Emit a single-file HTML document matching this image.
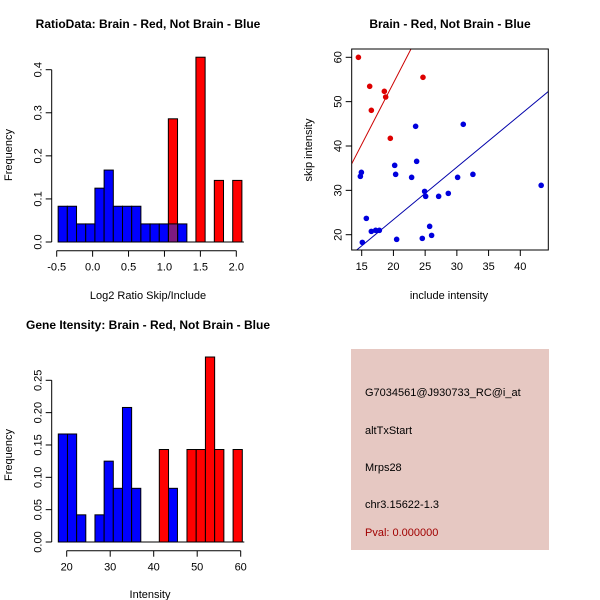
<!DOCTYPE html>
<html><head><meta charset="utf-8"><style>
body{margin:0;background:#fff}
svg{display:block;font-family:"Liberation Sans",Arial,sans-serif}
.t{font-size:11px}
.title{font-size:12px;font-weight:bold}
</style></head><body>
<svg id="s" width="600" height="600" viewBox="0 0 600 600">
<rect width="600" height="600" fill="#fff"/>
<text class="title" x="148" y="28" text-anchor="middle">RatioData: Brain - Red, Not Brain - Blue</text>
<text class="t" x="148" y="299" text-anchor="middle">Log2 Ratio Skip/Include</text>
<text class="t" transform="translate(12,155) rotate(-90)" text-anchor="middle">Frequency</text>
<text class="title" x="450" y="28" text-anchor="middle">Brain - Red, Not Brain - Blue</text>
<text class="t" x="449" y="299" text-anchor="middle">include intensity</text>
<text class="t" transform="translate(312,150) rotate(-90)" text-anchor="middle">skip intensity</text>
<text class="title" x="148" y="329" text-anchor="middle">Gene Itensity: Brain - Red, Not Brain - Blue</text>
<text class="t" x="150" y="598" text-anchor="middle">Intensity</text>
<text class="t" transform="translate(12,455) rotate(-90)" text-anchor="middle">Frequency</text>
<g>
<rect x="351" y="349" width="198" height="201" fill="#e6c8c2"/>
<text class="t" x="365" y="396">G7034561@J930733_RC@i_at</text>
<text class="t" x="365" y="434">altTxStart</text>
<text class="t" x="365" y="471">Mrps28</text>
<text class="t" x="365" y="508">chr3.15622-1.3</text>
<text class="t" x="365" y="536" fill="#a00000">Pval: 0.000000</text>
</g>
</svg>
<script>
// ---- data: ratio histogram
const ratioBlueStart=-0.48, ratioBlueWidth=0.128;
const ratioBlueFreq=[0.083,0.083,0.042,0.042,0.125,0.167,0.083,0.083,0.083,0.042,0.042,0.042,0.042,0.042];
const ratioRedStart=1.054, ratioRedWidth=0.128;
const ratioRedFreq=[0.286,0,0,0.429,0,0.143,0,0.143];
const ratioXTicks=[-0.5,0.0,0.5,1.0,1.5,2.0];
const ratioXTickLabels=["-0.5","0.0","0.5","1.0","1.5","2.0"];
const ratioYTicks=[0,0.1,0.2,0.3,0.4];
const ratioYTickLabels=["0.0","0.1","0.2","0.3","0.4"];
// ---- data: scatter
const redInclude=[14.48,16.26,16.52,18.57,18.78,19.51,24.66];
const redSkip=[60,53.46,48.05,52.33,51.05,41.73,55.49];
const blueInclude=[14.79,14.95,15.1,15.73,16.52,17.2,17.78,20.2,20.35,20.51,22.87,23.5,23.66,24.55,24.92,25.08,25.71,26.02,27.13,28.65,30.12,31.01,32.53,43.29];
const blueSkip=[33.16,34.06,18.27,23.68,20.75,20.98,20.98,35.64,33.61,18.95,32.93,44.44,36.54,19.17,29.77,28.65,21.88,19.85,28.65,29.32,32.93,44.89,33.61,31.13];
const redFit=[-1.2,2.77]; // intercept, slope
const blueFit=[-0.26,1.183];
const scatterXTicks=[15,20,25,30,35,40];
const scatterYTicks=[20,30,40,50,60];
// ---- data: intensity histogram
const intBlueStart=18.07, intBlueWidth=2.107;
const intBlueFreq=[0.167,0.167,0.042,0,0.042,0.125,0.083,0.208,0.083,0,0,0,0.083];
const intRedStart=41.29, intRedWidth=2.12;
const intRedFreq=[0.143,0,0,0.143,0.143,0.286,0.143,0,0.143];
const intXTicks=[20,30,40,50,60];
const intYTicks=[0,0.05,0.10,0.15,0.20,0.25];
const intYTickLabels=["0.00","0.05","0.10","0.15","0.20","0.25"];

const NS="http://www.w3.org/2000/svg";
const svg=document.getElementById('s');
function mk(tag,attrs,parent){const e=document.createElementNS(NS,tag);for(const k in attrs)e.setAttribute(k,attrs[k]);(parent||svg).appendChild(e);return e;}
function lin(d0,d1,r0,r1){return v=>r0+(v-d0)*(r1-r0)/(d1-d0);}

function hist(cfg){
  const g=mk('g',{});
  
  
  const x=cfg.x,y=cfg.y;
  const blue=[];
  cfg.bf.forEach((f,i)=>{
    const x0=cfg.bs+i*cfg.bw,x1=x0+cfg.bw;blue.push([x0,x1,f]);
    if(f<=0)return;
    const r=mk('rect',{x:x(x0),y:y(f),width:x(x1)-x(x0),height:y(0)-y(f),fill:'#0000ff',stroke:'#000','stroke-width':1},g);
    
    
  });
  cfg.rf.forEach((f,i)=>{
    const x0=cfg.rs+i*cfg.rw,x1=x0+cfg.rw;
    if(f<=0)return;
    const r=mk('rect',{x:x(x0),y:y(f),width:x(x1)-x(x0),height:y(0)-y(f),fill:'#ff0000',stroke:'#000','stroke-width':1},g);
    
    
    blue.forEach(b=>{
      const a=Math.max(b[0],x0),c=Math.min(b[1],x1);
      if(c-a>cfg.bw*0.5&&b[2]>0){
        const h=Math.min(b[2],f);
        const o=mk('rect',{x:x(a),y:y(h),width:x(c)-x(a),height:y(0)-y(h),fill:'#7f1a80',stroke:'#000','stroke-width':1},g);
        
        
      }
    });
  });
  // x axis
  const xa=mk('g',{});
  
  
  const xt=cfg.xt,ay=cfg.axisY;
  mk('line',{x1:x(xt[0]),x2:x(xt[xt.length-1]),y1:ay,y2:ay,stroke:'#000'},xa);
  xt.forEach((v,i)=>{mk('line',{x1:x(v),x2:x(v),y1:ay,y2:ay+6,stroke:'#000'},xa);
    const t=mk('text',{x:x(v),y:ay+20,'text-anchor':'middle',class:'t'},xa);t.textContent=cfg.xl[i];
    
    });
  const ya=mk('g',{});
  
  
  const yt=cfg.yt,ax=cfg.axisX;
  mk('line',{x1:ax,x2:ax,y1:y(yt[0]),y2:y(yt[yt.length-1]),stroke:'#000'},ya);
  yt.forEach((v,i)=>{mk('line',{x1:ax-6,x2:ax,y1:y(v),y2:y(v),stroke:'#000'},ya);
    const t=mk('text',{transform:`translate(${ax-10},${y(v)}) rotate(-90)`,'text-anchor':'middle',class:'t'},ya);t.textContent=cfg.yl[i];
    
    });
  // baseline
  mk('line',{x1:x(cfg.bs),x2:x(cfg.rs+cfg.rf.length*cfg.rw)+2,y1:y(0),y2:y(0),stroke:'#000'},g);
}
hist({name:'ratio-histogram',x:lin(-0.5,2.0,56.7,236.3),y:lin(0,0.4,242,69.7),
  bs:ratioBlueStart,bw:ratioBlueWidth,bf:ratioBlueFreq,rs:ratioRedStart,rw:ratioRedWidth,rf:ratioRedFreq,
  xt:ratioXTicks,xl:ratioXTickLabels,yt:ratioYTicks,yl:ratioYTickLabels,axisY:250.7,axisX:51.7});
hist({name:'intensity-histogram',x:lin(20,60,66.7,240.7),y:lin(0,0.25,542,380.3),
  bs:intBlueStart,bw:intBlueWidth,bf:intBlueFreq,rs:intRedStart,rw:intRedWidth,rf:intRedFreq,
  xt:intXTicks,xl:intXTicks.map(String),yt:intYTicks,yl:intYTickLabels,axisY:550.7,axisX:51.7});

// scatter
(function(){
  const x=lin(15,40,361.7,520.3),y=lin(20,60,234.7,57.3);
  const L=351.7,R=548.3,T=49,B=250;
  const g=mk('g',{});
  
  
  mk('clipPath',{id:'cp'},g);
  mk('rect',{x:L,y:T,width:R-L,height:B-T},g.querySelector('#cp'));
  const xmin=15+(L-361.7)/6.344,xmax=15+(R-361.7)/6.344;
  [[redFit,'#cc0000','red-fit-line'],[blueFit,'#0000aa','blue-fit-line']].forEach(([f,c,n])=>{
    const l=mk('line',{x1:x(xmin),y1:y(f[0]+f[1]*xmin),x2:x(xmax),y2:y(f[0]+f[1]*xmax),stroke:c,'stroke-width':1,'clip-path':'url(#cp)'},g);
    
    
  });
  blueInclude.forEach((v,i)=>{const c=mk('circle',{cx:x(v),cy:y(blueSkip[i]),r:2.8,fill:'#0000dd'},g);
    
    });
  redInclude.forEach((v,i)=>{const c=mk('circle',{cx:x(v),cy:y(redSkip[i]),r:2.8,fill:'#dd0000'},g);
    
    });
  const box=mk('rect',{x:L,y:T,width:R-L,height:B-T,fill:'none',stroke:'#000'},g);
  
  
  scatterXTicks.forEach(v=>{mk('line',{x1:x(v),x2:x(v),y1:B,y2:B+6,stroke:'#000'},g);
    const t=mk('text',{x:x(v),y:B+20,'text-anchor':'middle',class:'t'},g);t.textContent=v;
    
    });
  scatterYTicks.forEach(v=>{mk('line',{x1:L-6,x2:L,y1:y(v),y2:y(v),stroke:'#000'},g);
    const t=mk('text',{transform:`translate(${L-10},${y(v)}) rotate(-90)`,'text-anchor':'middle',class:'t'},g);t.textContent=v;
    
    });
})();
</script>
</body></html>
